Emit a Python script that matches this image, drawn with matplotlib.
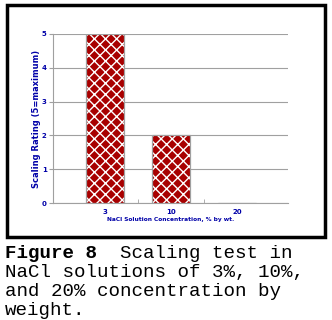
import numpy as np
import matplotlib.pyplot as plt
from matplotlib.patches import Rectangle

concentrations = ["3", "10", "20"]
ratings = [5, 2, 0]
yticks = [0, 1, 2, 3, 4, 5]

blue = "#0000a8"
red = "#a80000"
grid = "#a0a0a0"

plt.rcParams['hatch.linewidth'] = 1.0

fig = plt.figure(figsize=(3.32, 3.20), dpi=100)
fig.patch.set_facecolor("white")

# outer frame around the chart
fig.add_artist(Rectangle((7/332, 1 - 237/320), 318/332, 232/320, transform=fig.transFigure,
                         fill=False, edgecolor="black", linewidth=2.5))

ax = fig.add_axes([53/332, 117/320, 235/332, 169/320])
pos = np.arange(len(concentrations))
w = 0.58
ax.bar(pos, ratings, w, color=red, edgecolor=grid, linewidth=0.8, zorder=2)
ax.bar(pos, ratings, w, color="none", edgecolor="white", hatch="xxx", linewidth=0, zorder=3)
ax.bar(pos, ratings, w, color="none", edgecolor=grid, linewidth=0.8, zorder=4)

ax.set_xlim(-0.79, 2.77)
ax.set_ylim(0, 5)
ax.set_yticks(yticks)
ax.set_xticks(pos)
ax.set_xticklabels(concentrations)
ax.set_xticks([0.5, 1.5], minor=True)
ax.tick_params(axis="x", which="major", length=0, pad=4, labelsize=5, labelcolor=blue)
ax.tick_params(axis="x", which="minor", length=3, color=grid, direction="in")
ax.tick_params(axis="y", length=3, color=grid, labelsize=5, labelcolor=blue, pad=1.5)
for lab in ax.get_xticklabels() + ax.get_yticklabels():
    lab.set_fontweight("bold")

ax.yaxis.grid(True, color=grid, linewidth=0.8, zorder=0)
ax.set_axisbelow(True)
for s in ["top", "right"]:
    ax.spines[s].set_visible(False)
ax.spines["left"].set_color(grid)
ax.spines["bottom"].set_color(grid)

ax.set_ylabel("Scaling Rating (5=maximum)", color=blue, fontsize=6, fontweight="bold", va="center")
ax.yaxis.set_label_coords(-16/235, 0.5)
ax.set_xlabel("NaCl Solution Concentration, % by wt.", color=blue, fontsize=4.2, fontweight="bold", va="center")
ax.xaxis.set_label_coords(0.5, -16/169)

# caption below the frame
cap_font = "Liberation Mono"
cap_size = 13.8
char_w = cap_size * 100 / 72 * 0.6
fig.text(5/332, 1 - 258/320, "Figure 8", fontfamily=cap_font, fontweight="bold", fontsize=cap_size, va="baseline")
fig.text((5 + 10*char_w)/332, 1 - 258/320, "Scaling test in", fontfamily=cap_font, fontsize=cap_size, va="baseline")
lines = ["NaCl solutions of 3%, 10%,", "and 20% concentration by", "weight."]
for i, line in enumerate(lines):
    fig.text(5/332, 1 - (277 + 18.8*i)/320, line, fontfamily=cap_font, fontsize=cap_size, va="baseline")

fig.savefig("out.png", dpi=100)
